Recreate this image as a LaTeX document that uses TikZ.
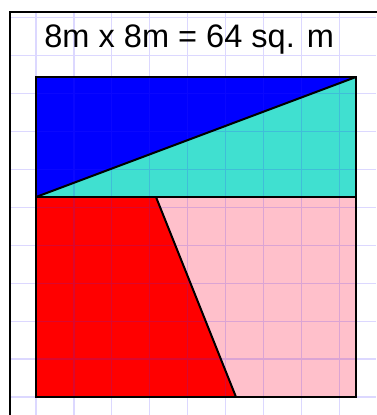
\documentclass[tikz,border=0pt]{standalone}
\usepackage{fontspec}
\setmainfont{Liberation Sans}
\usetikzlibrary{positioning}
\definecolor{tealpiece}{RGB}{64,224,208}
\definecolor{pinkpiece}{RGB}{255,192,203}
\definecolor{gridblue}{RGB}{60,40,255}

\begin{document}
\begin{tikzpicture}[
  x=30pt, y=30pt,
  font=\fontsize{24.4}{28}\selectfont,
  piece/.style={draw=black, line width=1.5pt, line join=miter},
  gridline/.style={draw=gridblue, opacity=0.18, line width=0.85pt},
  framebox/.style={draw=black, line width=1.6pt}
]
  \useasboundingbox (-0.9,-0.45) rectangle (8.5,9.925);
  % corners of the square and the cut points
  \coordinate (sw) at (0,0);
  \coordinate (se) at (8,0);
  \coordinate (ne) at (8,8);
  \coordinate (nw) at (0,8);
  \coordinate (wm) at (0,5);
  \coordinate (em) at (8,5);
  \coordinate (cuttop) at (3,5);
  \coordinate (cutbot) at (5,0);
  % pieces
  \fill[blue] (nw) -- (ne) -- (wm) -- cycle;
  \fill[tealpiece] (ne) -- (em) -- (wm) -- cycle;
  \fill[red] (wm) -- (cuttop) -- (cutbot) -- (sw) -- cycle;
  \fill[pinkpiece] (cuttop) -- (em) -- (se) -- (cutbot) -- cycle;
  % squared paper
  \draw[gridline] (-0.65,-0.45) grid (8.5,9.625);
  % outlines
  \draw[piece] (sw) rectangle (ne);
  \draw[piece] (wm) -- (em);
  \draw[piece] (wm) -- (ne);
  \draw[piece] (cuttop) -- (cutbot);
  \draw[framebox] (-0.65,-1) rectangle (9,9.625);
  \node[anchor=base, inner sep=0pt] (title) at (3.83,8.725) {8m x 8m = 64 sq. m};
\end{tikzpicture}
\end{document}
